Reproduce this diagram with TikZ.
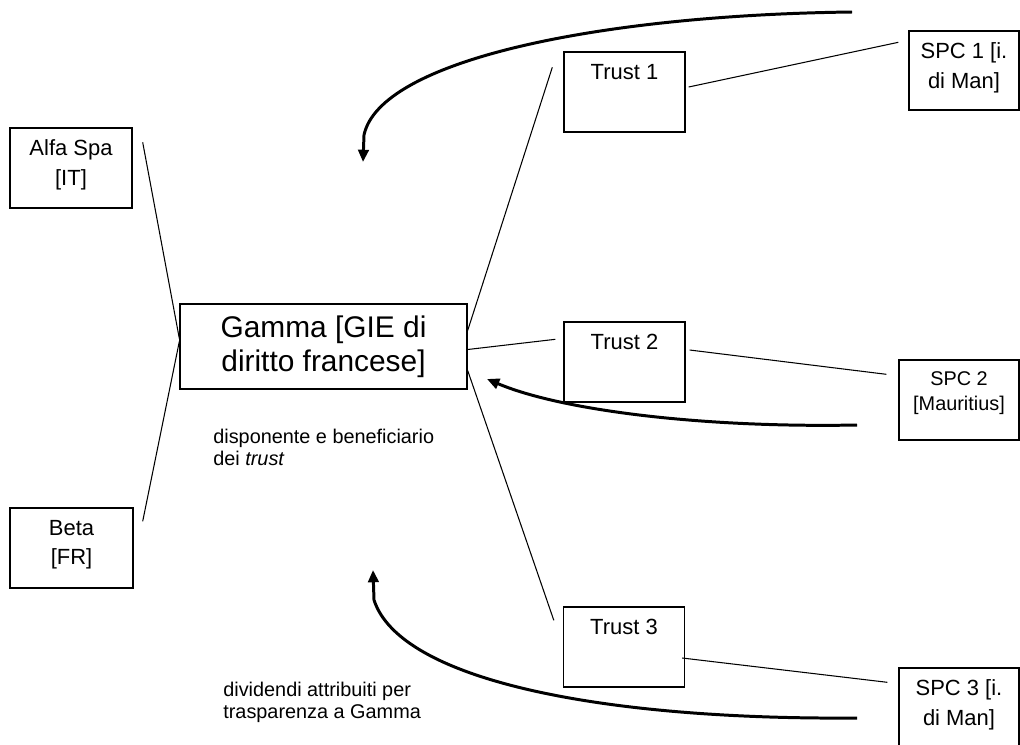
\documentclass[tikz,border=0pt]{standalone}
\usepackage{fontspec}
\setmainfont{Liberation Sans}
\usetikzlibrary{arrows.meta,calc}

\tikzset{
  box/.style={draw, line width=0.8pt, inner sep=0pt},
  boxtext/.style={anchor=north, inner sep=7pt, align=center, font=\fontsize{12.5}{17}\selectfont},
  smalltext/.style={boxtext, font=\fontsize{11.3}{14}\selectfont},
  note/.style={anchor=north west, inner sep=0pt, align=left, font=\fontsize{11.3}{12.6}\selectfont},
  link/.style={line width=0.6pt},
  flow/.style={line width=1.7pt, -{Triangle[length=7pt,width=6pt]}},
}

\begin{document}
\begin{tikzpicture}[x=0.02cm, y=-0.02cm]
  \clip (0,0) rectangle (1020,744);

  % partners
  \node[box, minimum width=2.44cm, minimum height=1.6cm,
        label={[boxtext]north:Alfa Spa\\{[IT]}}] (alfa) at (71,168) {};
  \node[box, minimum width=2.46cm, minimum height=1.6cm,
        label={[boxtext]north:Beta\\{[FR]}}] (beta) at (71.5,548) {};

  % the GIE
  \node[box, minimum width=5.74cm, minimum height=1.7cm, align=center,
        font=\fontsize{17}{19.5}\selectfont] (gamma) at (323.5,346.5) {Gamma [GIE di\\diritto francese]};

  % trusts
  \node[box, minimum width=2.42cm, minimum height=1.6cm,
        label={[boxtext]north:Trust 1}] (trust1) at (624.5,92) {};
  \node[box, minimum width=2.42cm, minimum height=1.6cm,
        label={[boxtext]north:Trust 2}] (trust2) at (624.5,362) {};
  \node[box, minimum width=2.42cm, minimum height=1.6cm,
        label={[boxtext]north:Trust 3}] (trust3) at (624,647) {};

  % SPCs
  \node[box, minimum width=2.2cm, minimum height=1.58cm,
        label={[boxtext]north:SPC 1 [i.\\di Man]}] (spc1) at (964,70.5) {};
  \node[box, minimum width=2.4cm, minimum height=1.6cm,
        label={[smalltext]north:SPC 2\\{[Mauritius]}}] (spc2) at (959,400) {};
  \node[box, minimum width=2.4cm, minimum height=1.6cm,
        label={[boxtext]north:SPC 3 [i.\\di Man]}] (spc3) at (959,708) {};

  % notes
  \node[note] (settlor) at (213,429) {disponente e beneficiario\\dei \textit{trust}};
  \node[note] (dividends) at (223,682) {dividendi attribuiti per\\trasparenza a Gamma};

  % links
  \draw[link] ($(alfa.north east)+(10,15)$) -- ($(gamma.west)+(0,-8)$);
  \draw[link] ($(beta.north east)+(9,14)$) -- ($(gamma.west)+(0,-5)$);
  \draw[link] ($(gamma.east)+(0,-16)$) -- ($(trust1.north west)+(-11,16)$);
  \draw[link] ($(gamma.east)+(0,3)$) -- ($(trust2.north west)+(-8,18)$);
  \draw[link] ($(gamma.east)+(0,24)$) -- ($(trust3.north west)+(-9,14)$);
  \draw[link] ($(trust1.east)+(3,-5)$) -- ($(spc1.north west)+(-10,12)$);
  \draw[link] ($(trust2.east)+(4,-12)$) -- ($(spc2.north west)+(-12,15)$);
  \draw[link] ($(trust3.east)+(-3,11)$) -- ($(spc3.north west)+(-11,15)$);

  % flows back to Gamma
  \coordinate (top from) at (852,12);
  \coordinate (top to) at (363,162);
  \coordinate (mid from) at (857,425);
  \coordinate (mid to) at (487,379);
  \coordinate (low from) at (857,718);
  \coordinate (low to) at (373,570);
  \draw[flow] (top from) .. controls (600,15) and (380,60) .. (364,135) -- (top to);
  \draw[flow] (mid from) .. controls (700,428) and (560,410) .. (mid to);
  \draw[flow] (low from) .. controls (600,720) and (400,680) .. (374,600) -- (low to);
\end{tikzpicture}
\end{document}
